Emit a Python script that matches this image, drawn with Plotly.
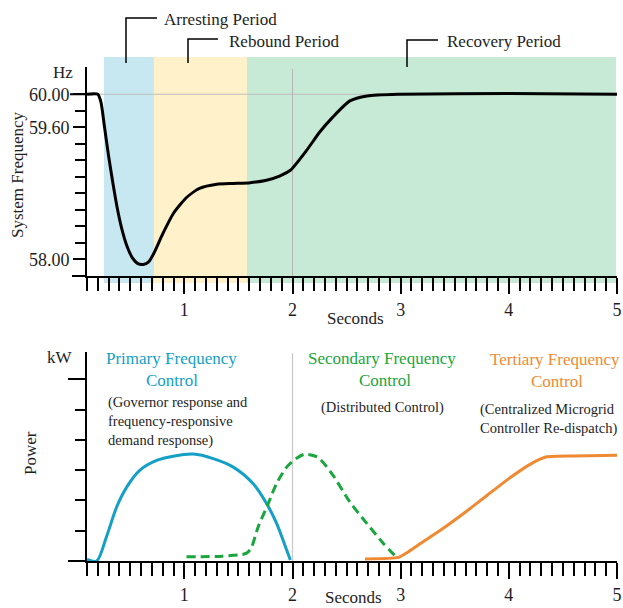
import plotly.graph_objects as go

# ---------------- data ----------------
time_freq = [0.10, 0.20, 0.23, 0.26, 0.30, 0.34, 0.38, 0.42, 0.47, 0.52, 0.57, 0.62,
             0.67, 0.72, 0.80, 0.90, 1.02, 1.14, 1.30, 1.45, 1.61, 1.76, 1.88, 1.98, 2.13, 2.25,
             2.37, 2.53, 2.69, 3.0, 4.0, 5.0]
freq_hz = [60.00, 60.00, 59.90, 59.62, 59.25, 58.92, 58.62, 58.38, 58.16, 58.02, 57.95, 57.94,
           57.97, 58.08, 58.31, 58.56, 58.75, 58.86, 58.91, 58.92, 58.93, 58.96, 59.01, 59.08,
           59.32, 59.54, 59.72, 59.92, 59.98, 60.00, 60.01, 60.00]

t_primary = [0.10, 0.19, 0.28, 0.375, 0.467, 0.59, 0.744, 0.898, 1.082, 1.267, 1.452, 1.637,
             1.76, 1.853, 1.946, 1.98]
p_primary = [0.05, 0.0, 0.8, 1.79, 2.44, 3.0, 3.32, 3.46, 3.53, 3.38, 3.1, 2.55, 1.9, 1.24, 0.36, 0.03]

t_secondary = [1.02, 1.35, 1.576, 1.622, 1.683, 1.776, 1.853, 1.946, 2.038, 2.11, 2.23, 2.37,
               2.53, 2.685, 2.84, 2.97]
p_secondary = [0.14, 0.16, 0.26, 0.47, 1.13, 1.9, 2.56, 3.1, 3.39, 3.52, 3.43, 2.85, 1.95, 1.25, 0.58, 0.09]

t_tertiary = [2.67, 2.98, 3.07, 3.2, 3.4, 3.6, 3.8, 4.0, 4.2, 4.35, 4.6, 5.0]
p_tertiary = [0.07, 0.12, 0.3, 0.62, 1.1, 1.62, 2.17, 2.72, 3.2, 3.44, 3.47, 3.49]

periods = ["Arresting Period", "Rebound Period", "Recovery Period"]
period_start = [0.257, 0.719, 1.579]
period_end = [0.719, 1.579, 4.99]
period_colors = ["#c7e8f1", "#fff1c9", "#c7ead6"]

freq_tick_vals = [57.8, 58.0, 59.6, 60.0]
freq_tick_text = ["", "58.00", "59.60", "60.00"]
freq_minor_vals = [58.2, 58.4, 58.6, 58.8, 59.0, 59.2, 59.4, 59.8]
power_major_vals = [0, 6]
power_minor_vals = [1, 2, 3, 4, 5]
sec_tick_vals = [1, 2, 3, 4, 5]
sec_tick_text = ["1", "2", "3", "4", "5"]

W, H = 623, 608
FONT = "Liberation Serif"
TXT = "#1e1e1e"
BLUE = "#14a0c6"
GREEN = "#1aa63c"
ORANGE = "#ef8a33"


def px(x):
    return x / W


def py(y):
    return 1 - y / H


fig = go.Figure()

fig.add_trace(go.Scatter(x=time_freq, y=freq_hz, mode="lines", xaxis="x", yaxis="y",
                         line=dict(color="black", width=3, shape="spline", smoothing=0.6),
                         showlegend=False, hoverinfo="skip"))
fig.add_trace(go.Scatter(x=t_primary, y=p_primary, mode="lines", xaxis="x2", yaxis="y2",
                         line=dict(color=BLUE, width=3, shape="spline", smoothing=0.8),
                         showlegend=False))
fig.add_trace(go.Scatter(x=t_secondary, y=p_secondary, mode="lines", xaxis="x2", yaxis="y2",
                         line=dict(color=GREEN, width=3, dash="9px,5px", shape="spline", smoothing=0.8),
                         showlegend=False))
fig.add_trace(go.Scatter(x=t_tertiary, y=p_tertiary, mode="lines", xaxis="x2", yaxis="y2",
                         line=dict(color=ORANGE, width=3, shape="spline", smoothing=0.5),
                         showlegend=False))

xdom = [px(87), px(617)]
common_x = dict(range=[0.1, 5], domain=xdom, showline=True, linecolor="black", linewidth=2,
                ticks="outside", tickvals=sec_tick_vals, ticktext=sec_tick_text, ticklen=16,
                tickwidth=2, tickcolor="black", showgrid=False, zeroline=False,
                tickfont=dict(family=FONT, size=18, color=TXT),
                minor=dict(dtick=0.1, tick0=0, ticks="outside", ticklen=13, tickwidth=1.5,
                           tickcolor="black", showgrid=False),
                automargin=False, fixedrange=True)

fig.update_layout(
    width=W, height=H,
    margin=dict(l=0, r=0, t=0, b=0),
    paper_bgcolor="white", plot_bgcolor="rgba(0,0,0,0)",
    font=dict(family=FONT, color=TXT),
    xaxis=dict(anchor="y", **common_x),
    yaxis=dict(range=[57.8, 60.33], domain=[py(276), py(67)], anchor="x",
               showline=True, linecolor="black", linewidth=2, ticks="outside",
               tickvals=freq_tick_vals, ticktext=freq_tick_text, ticklen=12, tickwidth=2,
               tickcolor="black", showgrid=False, zeroline=False,
               tickfont=dict(family=FONT, size=18, color=TXT),
               minor=dict(tickvals=freq_minor_vals, ticks="outside", ticklen=10, tickwidth=2,
                          tickcolor="black", showgrid=False),
               automargin=False, fixedrange=True),
    xaxis2=dict(anchor="y2", **common_x),
    yaxis2=dict(range=[0, 6.9], domain=[py(561), py(352)], anchor="x2",
                showline=True, linecolor="black", linewidth=2, ticks="outside",
                tickvals=power_major_vals, ticklen=17, tickwidth=2, tickcolor="black",
                showticklabels=False, showgrid=False, zeroline=False,
                minor=dict(tickvals=power_minor_vals, ticks="outside", ticklen=10, tickwidth=2,
                           tickcolor="black", showgrid=False),
                automargin=False, fixedrange=True),
)

shapes = []
# period bands
for s, e, c in zip(period_start, period_end, period_colors):
    shapes.append(dict(type="rect", xref="x", yref="paper", x0=s, x1=e, y0=py(283), y1=py(57),
                       fillcolor=c, line=dict(width=0), layer="below"))
# grid lines
shapes.append(dict(type="line", xref="paper", yref="y", x0=px(87), x1=px(617), y0=60.0, y1=60.0,
                   line=dict(color="#bdbdbd", width=1), layer="below"))
shapes.append(dict(type="line", xref="x", yref="paper", x0=2, x1=2, y0=py(276), y1=py(69),
                   line=dict(color="#b5b5b5", width=1), layer="below"))
shapes.append(dict(type="line", xref="x2", yref="paper", x0=2, x1=2, y0=py(561), y1=py(353),
                   line=dict(color="#c8c8c8", width=1.2), layer="below"))
# long tick at 60.00 and axis extensions
shapes.append(dict(type="line", xref="paper", yref="y", x0=px(70), x1=px(87), y0=60.0, y1=60.0,
                   line=dict(color="black", width=2)))
shapes.append(dict(type="line", xref="paper", yref="paper", x0=px(72), x1=px(87), y0=py(276), y1=py(276),
                   line=dict(color="black", width=2)))
# period brackets
brackets = [(126, 157, 18, 63), (188, 218, 39, 63), (407, 438, 40, 67)]
for x0, x1, y0, y1 in brackets:
    shapes.append(dict(type="path", xref="paper", yref="paper",
                       path=f"M {px(x1)} {py(y0)} L {px(x0)} {py(y0)} L {px(x0)} {py(y1)}",
                       line=dict(color="black", width=1.5)))
fig.update_layout(shapes=shapes)

ann = []


def text(x, y, s, size=17, color=TXT, xanchor="center", angle=0):
    ann.append(dict(x=px(x), y=py(y), xref="paper", yref="paper", text=s, showarrow=False,
                    xanchor=xanchor, yanchor="middle", textangle=angle,
                    font=dict(family=FONT, size=size, color=color)))


# period labels
label_pos = [(162, 19), (227, 42), (445, 42)]
for (x, y), lab in zip(label_pos, periods):
    text(x, y, lab, size=17, xanchor="left")

text(63, 72, "Hz", 17)
text(18, 175, "System Frequency", 17, angle=-90)
text(355, 318, "Seconds", 17)
text(60, 357, "kW", 17)
text(30, 453, "Power", 17, angle=-90)
text(353, 597, "Seconds", 17)

text(171, 358, "Primary Frequency", 17, BLUE)
text(172, 380, "Control", 17, BLUE)
ann.append(dict(x=px(106), y=py(392), xref="paper", yref="paper", showarrow=False,
                text="(Governor response and<br>frequency-responsive<br>demand response)",
                xanchor="left", yanchor="top", align="left",
                font=dict(family=FONT, size=14.5, color=TXT)))
text(382, 358, "Secondary Frequency", 17, GREEN)
text(385, 380, "Control", 17, GREEN)
text(382, 407, "(Distributed Control)", 14.5)
text(555, 359, "Tertiary Frequency", 17, ORANGE)
text(557, 381, "Control", 17, ORANGE)
ann.append(dict(x=px(478), y=py(399), xref="paper", yref="paper", showarrow=False,
                text="(Centralized Microgrid<br>Controller Re-dispatch)",
                xanchor="left", yanchor="top", align="left",
                font=dict(family=FONT, size=14.5, color=TXT)))

fig.update_layout(annotations=ann)

fig.write_html("out.html", config=dict(displayModeBar=False),
               post_script="document.body.style.margin='0';document.body.style.overflow='hidden';")
